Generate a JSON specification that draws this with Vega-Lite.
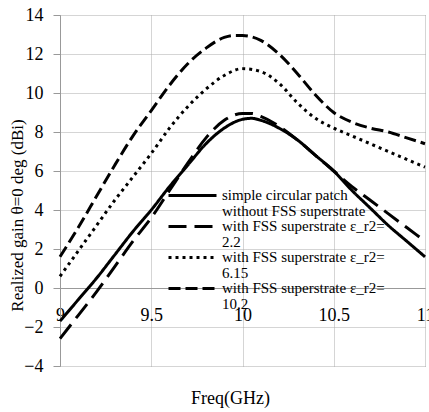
{
  "$schema": "https://vega.github.io/schema/vega-lite/v6.json",
  "width": 365,
  "height": 351,
  "autosize": {"type": "none"},
  "padding": {"left": 60, "top": 15, "right": 4, "bottom": 46},
  "background": "white",
  "config": {
    "view": {"stroke": null},
    "font": "Liberation Serif",
    "axis": {"labelFont": "Liberation Serif", "titleFont": "Liberation Serif"},
    "legend": {"labelFont": "Liberation Serif"}
  },
  "datasets": {
    "curves": [
      {"series": "simple circular patch|without FSS superstrate", "freq": 9.0, "gain": -1.7},
      {"series": "simple circular patch|without FSS superstrate", "freq": 9.1, "gain": -0.6},
      {"series": "simple circular patch|without FSS superstrate", "freq": 9.2, "gain": 0.5},
      {"series": "simple circular patch|without FSS superstrate", "freq": 9.3, "gain": 1.7},
      {"series": "simple circular patch|without FSS superstrate", "freq": 9.4, "gain": 2.9},
      {"series": "simple circular patch|without FSS superstrate", "freq": 9.5, "gain": 4.0},
      {"series": "simple circular patch|without FSS superstrate", "freq": 9.6, "gain": 5.2},
      {"series": "simple circular patch|without FSS superstrate", "freq": 9.7, "gain": 6.3},
      {"series": "simple circular patch|without FSS superstrate", "freq": 9.8, "gain": 7.4},
      {"series": "simple circular patch|without FSS superstrate", "freq": 9.9, "gain": 8.2},
      {"series": "simple circular patch|without FSS superstrate", "freq": 10.0, "gain": 8.65},
      {"series": "simple circular patch|without FSS superstrate", "freq": 10.05, "gain": 8.7},
      {"series": "simple circular patch|without FSS superstrate", "freq": 10.1, "gain": 8.6},
      {"series": "simple circular patch|without FSS superstrate", "freq": 10.2, "gain": 8.2},
      {"series": "simple circular patch|without FSS superstrate", "freq": 10.3, "gain": 7.6},
      {"series": "simple circular patch|without FSS superstrate", "freq": 10.4, "gain": 6.8},
      {"series": "simple circular patch|without FSS superstrate", "freq": 10.5, "gain": 6.0},
      {"series": "simple circular patch|without FSS superstrate", "freq": 10.6, "gain": 5.0},
      {"series": "simple circular patch|without FSS superstrate", "freq": 10.7, "gain": 4.1},
      {"series": "simple circular patch|without FSS superstrate", "freq": 10.8, "gain": 3.2},
      {"series": "simple circular patch|without FSS superstrate", "freq": 10.9, "gain": 2.4},
      {"series": "simple circular patch|without FSS superstrate", "freq": 11.0, "gain": 1.6},

      {"series": "with FSS superstrate ε_r2=|2.2", "freq": 9.0, "gain": -2.6},
      {"series": "with FSS superstrate ε_r2=|2.2", "freq": 9.1, "gain": -1.4},
      {"series": "with FSS superstrate ε_r2=|2.2", "freq": 9.2, "gain": -0.2},
      {"series": "with FSS superstrate ε_r2=|2.2", "freq": 9.3, "gain": 1.1},
      {"series": "with FSS superstrate ε_r2=|2.2", "freq": 9.4, "gain": 2.4},
      {"series": "with FSS superstrate ε_r2=|2.2", "freq": 9.5, "gain": 3.6},
      {"series": "with FSS superstrate ε_r2=|2.2", "freq": 9.6, "gain": 5.0},
      {"series": "with FSS superstrate ε_r2=|2.2", "freq": 9.7, "gain": 6.4},
      {"series": "with FSS superstrate ε_r2=|2.2", "freq": 9.8, "gain": 7.7},
      {"series": "with FSS superstrate ε_r2=|2.2", "freq": 9.9, "gain": 8.6},
      {"series": "with FSS superstrate ε_r2=|2.2", "freq": 10.0, "gain": 8.95},
      {"series": "with FSS superstrate ε_r2=|2.2", "freq": 10.05, "gain": 8.95},
      {"series": "with FSS superstrate ε_r2=|2.2", "freq": 10.1, "gain": 8.8},
      {"series": "with FSS superstrate ε_r2=|2.2", "freq": 10.2, "gain": 8.3},
      {"series": "with FSS superstrate ε_r2=|2.2", "freq": 10.3, "gain": 7.6},
      {"series": "with FSS superstrate ε_r2=|2.2", "freq": 10.4, "gain": 6.8},
      {"series": "with FSS superstrate ε_r2=|2.2", "freq": 10.5, "gain": 6.0},
      {"series": "with FSS superstrate ε_r2=|2.2", "freq": 10.6, "gain": 5.2},
      {"series": "with FSS superstrate ε_r2=|2.2", "freq": 10.7, "gain": 4.5},
      {"series": "with FSS superstrate ε_r2=|2.2", "freq": 10.8, "gain": 3.8},
      {"series": "with FSS superstrate ε_r2=|2.2", "freq": 10.9, "gain": 3.1},
      {"series": "with FSS superstrate ε_r2=|2.2", "freq": 11.0, "gain": 2.4},

      {"series": "with FSS superstrate ε_r2=|6.15", "freq": 9.0, "gain": 0.6},
      {"series": "with FSS superstrate ε_r2=|6.15", "freq": 9.1, "gain": 1.9},
      {"series": "with FSS superstrate ε_r2=|6.15", "freq": 9.2, "gain": 3.2},
      {"series": "with FSS superstrate ε_r2=|6.15", "freq": 9.3, "gain": 4.5},
      {"series": "with FSS superstrate ε_r2=|6.15", "freq": 9.4, "gain": 5.7},
      {"series": "with FSS superstrate ε_r2=|6.15", "freq": 9.5, "gain": 6.9},
      {"series": "with FSS superstrate ε_r2=|6.15", "freq": 9.6, "gain": 8.2},
      {"series": "with FSS superstrate ε_r2=|6.15", "freq": 9.7, "gain": 9.3},
      {"series": "with FSS superstrate ε_r2=|6.15", "freq": 9.8, "gain": 10.2},
      {"series": "with FSS superstrate ε_r2=|6.15", "freq": 9.9, "gain": 10.9},
      {"series": "with FSS superstrate ε_r2=|6.15", "freq": 10.0, "gain": 11.25},
      {"series": "with FSS superstrate ε_r2=|6.15", "freq": 10.1, "gain": 11.1},
      {"series": "with FSS superstrate ε_r2=|6.15", "freq": 10.2, "gain": 10.5},
      {"series": "with FSS superstrate ε_r2=|6.15", "freq": 10.3, "gain": 9.5},
      {"series": "with FSS superstrate ε_r2=|6.15", "freq": 10.4, "gain": 8.7},
      {"series": "with FSS superstrate ε_r2=|6.15", "freq": 10.5, "gain": 8.2},
      {"series": "with FSS superstrate ε_r2=|6.15", "freq": 10.6, "gain": 7.8},
      {"series": "with FSS superstrate ε_r2=|6.15", "freq": 10.7, "gain": 7.4},
      {"series": "with FSS superstrate ε_r2=|6.15", "freq": 10.8, "gain": 7.0},
      {"series": "with FSS superstrate ε_r2=|6.15", "freq": 10.9, "gain": 6.6},
      {"series": "with FSS superstrate ε_r2=|6.15", "freq": 11.0, "gain": 6.2},

      {"series": "with FSS superstrate ε_r2=|10.2", "freq": 9.0, "gain": 1.6},
      {"series": "with FSS superstrate ε_r2=|10.2", "freq": 9.1, "gain": 3.1},
      {"series": "with FSS superstrate ε_r2=|10.2", "freq": 9.2, "gain": 4.7},
      {"series": "with FSS superstrate ε_r2=|10.2", "freq": 9.3, "gain": 6.3},
      {"series": "with FSS superstrate ε_r2=|10.2", "freq": 9.4, "gain": 7.8},
      {"series": "with FSS superstrate ε_r2=|10.2", "freq": 9.5, "gain": 9.1},
      {"series": "with FSS superstrate ε_r2=|10.2", "freq": 9.6, "gain": 10.4},
      {"series": "with FSS superstrate ε_r2=|10.2", "freq": 9.7, "gain": 11.5},
      {"series": "with FSS superstrate ε_r2=|10.2", "freq": 9.8, "gain": 12.3},
      {"series": "with FSS superstrate ε_r2=|10.2", "freq": 9.9, "gain": 12.85},
      {"series": "with FSS superstrate ε_r2=|10.2", "freq": 9.95, "gain": 12.95},
      {"series": "with FSS superstrate ε_r2=|10.2", "freq": 10.0, "gain": 12.95},
      {"series": "with FSS superstrate ε_r2=|10.2", "freq": 10.1, "gain": 12.7},
      {"series": "with FSS superstrate ε_r2=|10.2", "freq": 10.2, "gain": 12.0},
      {"series": "with FSS superstrate ε_r2=|10.2", "freq": 10.3, "gain": 11.0},
      {"series": "with FSS superstrate ε_r2=|10.2", "freq": 10.4, "gain": 9.9},
      {"series": "with FSS superstrate ε_r2=|10.2", "freq": 10.5, "gain": 9.0},
      {"series": "with FSS superstrate ε_r2=|10.2", "freq": 10.6, "gain": 8.5},
      {"series": "with FSS superstrate ε_r2=|10.2", "freq": 10.7, "gain": 8.2},
      {"series": "with FSS superstrate ε_r2=|10.2", "freq": 10.8, "gain": 8.0},
      {"series": "with FSS superstrate ε_r2=|10.2", "freq": 10.9, "gain": 7.7},
      {"series": "with FSS superstrate ε_r2=|10.2", "freq": 11.0, "gain": 7.4}
    ]
  },
  "data": {"name": "curves"},
  "mark": {"type": "line", "interpolate": "monotone", "strokeWidth": 3, "color": "black"},
  "encoding": {
    "x": {
      "field": "freq",
      "type": "quantitative",
      "scale": {"domain": [9, 11], "nice": false, "zero": false},
      "axis": {
        "title": "Freq(GHz)",
        "values": [9, 9.5, 10, 10.5, 11],
        "format": "~g",
        "offset": -78,
        "tickSize": 0,
        "labelPadding": 18,
        "labelFont": "Liberation Serif",
        "labelFontSize": 18,
        "labelColor": "black",
        "labelFlush": false,
        "labelOverlap": false,
        "domainColor": "#999999",
        "gridColor": "#aaaaaa",
        "gridDash": [1, 1],
        "titleFont": "Liberation Serif",
        "titleFontSize": 18,
        "titleFontWeight": "normal",
        "titleColor": "black",
        "titleX": 170,
        "titleY": 115,
        "titleAlign": "center",
        "titleBaseline": "alphabetic"
      }
    },
    "y": {
      "field": "gain",
      "type": "quantitative",
      "scale": {"domain": [-4, 14], "nice": false, "zero": false},
      "axis": {
        "title": "Realized gain θ=0 deg (dBi)",
        "values": [-4, -2, 0, 2, 4, 6, 8, 10, 12, 14],
        "tickSize": 7,
        "tickColor": "#999999",
        "labelPadding": 10,
        "labelFont": "Liberation Serif",
        "labelFontSize": 18,
        "labelColor": "black",
        "domainColor": "#999999",
        "gridColor": "#aaaaaa",
        "gridDash": [1, 1],
        "titleFont": "Liberation Serif",
        "titleFontSize": 17,
        "titleFontWeight": "normal",
        "titleColor": "black",
        "titleX": -34,
        "titleY": 200,
        "titleAngle": -90,
        "titleAlign": "center",
        "titleBaseline": "bottom"
      }
    },
    "strokeDash": {
      "field": "series",
      "type": "nominal",
      "scale": {
        "domain": [
          "simple circular patch|without FSS superstrate",
          "with FSS superstrate ε_r2=|2.2",
          "with FSS superstrate ε_r2=|6.15",
          "with FSS superstrate ε_r2=|10.2"
        ],
        "range": [[1, 0], [18, 8], [3, 4], [12, 5]]
      },
      "legend": {
        "orient": "none",
        "legendX": 105,
        "legendY": 173,
        "title": null,
        "symbolType": "M-1,0H11",
        "symbolSize": 64,
        "symbolStrokeWidth": 3,
        "symbolStrokeColor": "black",
        "symbolFillColor": "transparent",
        "labelOffset": 42,
        "labelFont": "Liberation Serif",
        "labelFontSize": 15,
        "labelColor": "black",
        "labelLimit": 400,
        "labelBaseline": "top",
        "labelExpr": "split(datum.label, '|')",
        "rowPadding": -5,
        "encode": {
          "labels": {"update": {"dy": {"value": -8}, "lineHeight": {"value": 16}}}
        }
      }
    }
  }
}
